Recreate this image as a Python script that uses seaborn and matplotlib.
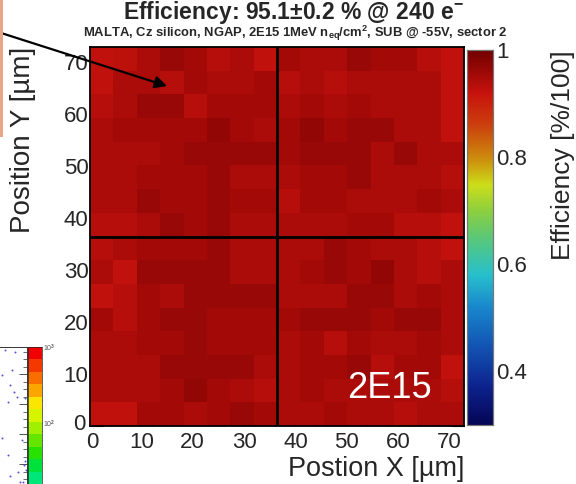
import numpy as np
import pandas as pd
import matplotlib
matplotlib.use("Agg")
import matplotlib.pyplot as plt
import matplotlib.transforms as mtransforms
import seaborn as sns
from matplotlib.colors import LinearSegmentedColormap, ListedColormap, LogNorm
from matplotlib.ticker import FixedLocator
from matplotlib.patches import Rectangle

# ---------------- data ----------------
bin_width_um = 4.55          # 16 bins over 72.8 um (2 x 36.4 um pixels)
pixel_pitch_um = 36.4
x_ticks_um = [0, 10, 20, 30, 40, 50, 60, 70]
y_ticks_um = [0, 10, 20, 30, 40, 50, 60, 70]
cbar_ticks = [0.4, 0.6, 0.8, 1.0]
cbar_ticklabels = ["0.4", "0.6", "0.8", "1"]

# efficiency per bin, rows listed from top (y ~ 72.8 um) to bottom (y ~ 0)
eff_row_00 = [0.925, 0.930, 0.945, 0.962, 0.953, 0.935, 0.945, 0.925, 0.953, 0.945, 0.945, 0.962, 0.953, 0.953, 0.935, 0.925]
eff_row_01 = [0.925, 0.945, 0.945, 0.935, 0.953, 0.945, 0.945, 0.953, 0.935, 0.945, 0.935, 0.945, 0.945, 0.945, 0.945, 0.925]
eff_row_02 = [0.935, 0.945, 0.962, 0.962, 0.935, 0.953, 0.953, 0.953, 0.945, 0.953, 0.945, 0.953, 0.945, 0.945, 0.945, 0.925]
eff_row_03 = [0.945, 0.953, 0.953, 0.953, 0.953, 0.968, 0.953, 0.945, 0.953, 0.968, 0.953, 0.962, 0.962, 0.945, 0.945, 0.925]
eff_row_04 = [0.945, 0.945, 0.945, 0.953, 0.962, 0.962, 0.962, 0.962, 0.953, 0.962, 0.962, 0.962, 0.945, 0.962, 0.945, 0.945]
eff_row_05 = [0.945, 0.945, 0.953, 0.953, 0.953, 0.962, 0.945, 0.945, 0.945, 0.953, 0.953, 0.962, 0.945, 0.945, 0.945, 0.935]
eff_row_06 = [0.945, 0.945, 0.962, 0.953, 0.953, 0.962, 0.953, 0.953, 0.935, 0.953, 0.953, 0.945, 0.945, 0.945, 0.953, 0.945]
eff_row_07 = [0.935, 0.935, 0.945, 0.962, 0.953, 0.962, 0.945, 0.945, 0.945, 0.945, 0.945, 0.953, 0.953, 0.935, 0.935, 0.925]
eff_row_08 = [0.935, 0.945, 0.953, 0.953, 0.953, 0.962, 0.945, 0.945, 0.945, 0.945, 0.962, 0.953, 0.945, 0.945, 0.935, 0.925]
eff_row_09 = [0.945, 0.925, 0.962, 0.962, 0.962, 0.962, 0.945, 0.945, 0.945, 0.953, 0.962, 0.953, 0.968, 0.945, 0.935, 0.945]
eff_row_10 = [0.925, 0.935, 0.953, 0.945, 0.962, 0.962, 0.962, 0.962, 0.945, 0.945, 0.945, 0.962, 0.962, 0.945, 0.953, 0.945]
eff_row_11 = [0.953, 0.935, 0.953, 0.962, 0.962, 0.953, 0.953, 0.953, 0.953, 0.962, 0.962, 0.962, 0.953, 0.962, 0.962, 0.945]
eff_row_12 = [0.945, 0.945, 0.953, 0.953, 0.962, 0.953, 0.953, 0.953, 0.945, 0.953, 0.935, 0.953, 0.945, 0.945, 0.953, 0.945]
eff_row_13 = [0.945, 0.945, 0.945, 0.962, 0.962, 0.962, 0.962, 0.945, 0.945, 0.953, 0.953, 0.962, 0.935, 0.953, 0.953, 0.925]
eff_row_14 = [0.945, 0.945, 0.945, 0.953, 0.968, 0.953, 0.945, 0.935, 0.945, 0.953, 0.945, 0.945, 0.945, 0.945, 0.945, 0.935]
eff_row_15 = [0.925, 0.925, 0.953, 0.953, 0.945, 0.953, 0.962, 0.953, 0.945, 0.945, 0.953, 0.945, 0.945, 0.935, 0.945, 0.945]

title_text = "Efficiency: 95.1\u00b10.2 % @ 240 e$^{-}$"
subtitle_text = "MALTA, Cz silicon, NGAP, 2E15 1MeV n$_{eq}$/cm$^{2}$, SUB @ -55V, sector 2"
fluence_label = "2E15"
arrow_tip_um = (15.0, 65.3)

# leftover piece of a neighbouring figure (bottom-left corner)
inset_dot_x = [5, 15, 12, 2, 10, 14, 17, 25, 8, 2, 22, 8, 25, 24, 26, 10, 20, 23, 18]
inset_dot_y = [134, 132, 114, 109, 99, 92, 87, 86, 82, 46, 44, 29, 23, 19, 14, 8, 2, 2, 12]
inset_cbar_colors = ["#00e678", "#00e13c", "#28e100", "#64e600", "#a0f000", "#d7f500",
                     "#fae600", "#faa500", "#fa6e00", "#f53700", "#f00000"]

# ---------------- style ----------------
sns.set_style("ticks")
plt.rcParams["font.family"] = ["Liberation Sans", "DejaVu Sans"]
plt.rcParams["mathtext.fontset"] = "custom"
plt.rcParams["mathtext.rm"] = "Liberation Sans:bold"
plt.rcParams["mathtext.it"] = "Liberation Sans:bold"
plt.rcParams["mathtext.bf"] = "Liberation Sans:bold"
plt.rcParams["mathtext.default"] = "rm"

eff = np.array([eff_row_00, eff_row_01, eff_row_02, eff_row_03, eff_row_04, eff_row_05,
                eff_row_06, eff_row_07, eff_row_08, eff_row_09, eff_row_10, eff_row_11,
                eff_row_12, eff_row_13, eff_row_14, eff_row_15])
nbins = eff.shape[0]
extent_um = nbins * bin_width_um
df = pd.DataFrame(eff)

root_stops = [
    (0.00, (0.02, 0.02, 0.33)),
    (0.10, (0.05, 0.13, 0.55)),
    (0.21, (0.07, 0.33, 0.70)),
    (0.31, (0.10, 0.52, 0.80)),
    (0.40, (0.15, 0.75, 0.80)),
    (0.49, (0.33, 0.78, 0.50)),
    (0.57, (0.55, 0.81, 0.25)),
    (0.64, (0.80, 0.87, 0.10)),
    (0.71, (0.80, 0.55, 0.05)),
    (0.80, (0.80, 0.25, 0.05)),
    (0.886, (0.78, 0.07, 0.05)),
    (1.00, (0.44, 0.00, 0.00)),
]
cmap = LinearSegmentedColormap.from_list("rootlike", root_stops, N=512)

fig = plt.figure(figsize=(5.76, 4.84), dpi=100)
ax = fig.add_axes([90 / 576, (484 - 426) / 484, 374 / 576, 379 / 484])
cax = fig.add_axes([467 / 576, (484 - 425) / 484, 26 / 576, 375 / 484])

sns.heatmap(df, ax=ax, cbar_ax=cax, cmap=cmap, vmin=0.3, vmax=1.0,
            xticklabels=False, yticklabels=False)

def xpos(v):
    return v / bin_width_um

def ypos(v):
    return nbins - v / bin_width_um

ax.set_xlim(0, nbins)
ax.set_ylim(nbins, 0)
ax.set_xticks([xpos(v) for v in x_ticks_um])
ax.set_xticklabels([str(v) for v in x_ticks_um])
ax.set_yticks([ypos(v) for v in y_ticks_um])
ax.set_yticklabels([str(v) for v in y_ticks_um])
minor_um = np.arange(0, extent_um + 0.01, 2.0)
ax.xaxis.set_minor_locator(FixedLocator([xpos(v) for v in minor_um]))
ax.yaxis.set_minor_locator(FixedLocator([ypos(v) for v in minor_um]))
ax.tick_params(which="both", direction="in", top=True, right=True, bottom=True, left=True,
               color="black", width=0.8)
ax.tick_params(which="major", length=9, labelsize=16)
ax.tick_params(which="minor", length=4.5)
ax.tick_params(axis="x", which="major", pad=4)
ax.tick_params(axis="y", which="major", pad=1)
for s in ax.spines.values():
    s.set_visible(True)
    s.set_color("black")
    s.set_linewidth(1.3)

# nudge the two origin "0" labels apart slightly (they touch in the original)
ylab0 = ax.get_yticklabels()[0]
ylab0.set_transform(ylab0.get_transform() +
                    mtransforms.ScaledTranslation(-2 / 72, 3 / 72, fig.dpi_scale_trans))
xlab0 = ax.get_xticklabels()[0]
xlab0.set_transform(xlab0.get_transform() +
                    mtransforms.ScaledTranslation(1.5 / 72, 0, fig.dpi_scale_trans))

ax.axvline(xpos(pixel_pitch_um), color="black", lw=2.0)
ax.axhline(ypos(pixel_pitch_um), color="black", lw=2.0)

ax.set_xlabel("Postion X [\u00b5m]", fontsize=19.5, loc="right")
ax.set_ylabel("Position Y [\u00b5m]", fontsize=20, loc="top")
ax.xaxis.set_label_coords(1.0, -(456 - 426) / 379)
ax.yaxis.set_label_coords(-(90 - 36) / 374, 1.0)

ax.text(0.80, 0.098, fluence_label, transform=ax.transAxes, color="white",
        fontsize=26, ha="center", va="center")

ax.annotate("", xy=(xpos(arrow_tip_um[0]), ypos(arrow_tip_um[1])), xycoords="data",
            xytext=(-2, 452), textcoords="figure pixels",
            arrowprops=dict(arrowstyle="-|>", color="black", lw=1.6, mutation_scale=18,
                            shrinkA=0, shrinkB=0),
            annotation_clip=False)

# colorbar
cax.set_yticks(cbar_ticks)
cax.set_yticklabels(cbar_ticklabels)
cax.yaxis.set_ticks_position("right")
cax.tick_params(axis="y", direction="in", length=9, width=0.8, labelsize=16, pad=2,
                color="#333333")
cax.set_ylabel("Efficiency [%/100]", fontsize=19, loc="top")
cax.yaxis.set_label_position("right")
cax.yaxis.set_label_coords((551 - 467) / 26, 1.0)
for s in cax.spines.values():
    s.set_visible(True)
    s.set_color("#777777")
    s.set_linewidth(0.8)
cbar = ax.collections[0].colorbar
cbar.outline.set_edgecolor("#777777")
cbar.outline.set_linewidth(0.8)

# titles
fig.text(0.51, 0.974, title_text, ha="center", va="center", fontsize=16.5, fontweight="bold")
fig.text(0.512, 0.9305, subtitle_text, ha="center", va="center", fontsize=9.4, fontweight="bold")

# left-edge remnant stripe
fig.patches.append(Rectangle((0, (484 - 137) / 484), 2.5 / 576, 137 / 484,
                             transform=fig.transFigure, facecolor="#e9a48a",
                             edgecolor="none", zorder=5))

# bottom-left remnant of another plot
ins = fig.add_axes([0, 0, 27 / 576, 137 / 484])
ins.set_facecolor("white")
ins.scatter(inset_dot_x, inset_dot_y, s=2, color="#5a50d8", linewidths=0)
ins.set_xlim(0, 27)
ins.set_ylim(0, 137)
ins.set_xticks([])
ins.yaxis.set_ticks_position("right")
ins.set_yticks([20, 50, 80, 110])
ins.yaxis.set_minor_locator(FixedLocator(np.arange(5, 137, 7.5)))
ins.tick_params(axis="y", which="both", direction="in", labelright=False, color="#333333")
ins.tick_params(axis="y", which="major", length=6, width=0.6)
ins.tick_params(axis="y", which="minor", length=3, width=0.5)
for side in ["left", "bottom"]:
    ins.spines[side].set_visible(False)
for side in ["top", "right"]:
    ins.spines[side].set_color("#333333")
    ins.spines[side].set_linewidth(0.7)

ins_cax = fig.add_axes([28 / 576, 0, 14 / 576, 137 / 484])
inset_cmap = ListedColormap(inset_cbar_colors)
sm = plt.cm.ScalarMappable(norm=LogNorm(vmin=16, vmax=1000), cmap=inset_cmap)
icb = fig.colorbar(sm, cax=ins_cax)
icb.outline.set_linewidth(0.5)
icb.set_ticks([100, 1000])
icb.set_ticklabels(["10$^{2}$", "10$^{3}$"])
ins_cax.tick_params(which="both", direction="in", labelsize=5, pad=1, width=0.5,
                    labelcolor="#555555", color="#333333")

fig.savefig("out.png", dpi=100)
